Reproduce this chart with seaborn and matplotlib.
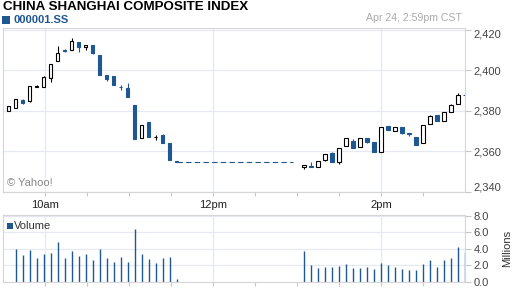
import matplotlib
matplotlib.use("Agg")
import matplotlib.pyplot as plt
from matplotlib.patches import Rectangle
import seaborn as sns
import pandas as pd
import numpy as np

sns.set_theme(style="white")
plt.rcParams['font.family'] = ['Liberation Sans', 'DejaVu Sans']

# ---------------- data ----------------
am_times = pd.date_range("2013-04-24 09:34", periods=25, freq="5min")
pm_times = pd.date_range("2013-04-24 13:05", periods=24, freq="5min")

am_open  = [2379.8, 2381.6, 2385.4, 2384.6, 2391.8, 2391.5, 2396.4, 2404.3, 2409.9, 2410.2,
            2413.8, 2411.2, 2412.6, 2407.4, 2397.5, 2397.0, 2391.9, 2391.1, 2382.8, 2366.4,
            2374.4, 2366.9, 2368.0, 2364.2, 2355.1]
am_high  = [2382.6, 2385.6, 2385.7, 2392.1, 2392.8, 2397.1, 2403.3, 2411.8, 2410.6, 2415.8,
            2413.8, 2412.6, 2412.6, 2407.4, 2397.5, 2397.0, 2392.6, 2393.7, 2382.8, 2373.2,
            2374.4, 2368.3, 2368.5, 2364.2, 2355.1]
am_low   = [2379.8, 2381.6, 2383.6, 2384.3, 2391.6, 2391.5, 2394.2, 2404.3, 2408.9, 2410.2,
            2409.0, 2410.2, 2407.9, 2397.7, 2394.7, 2392.8, 2390.5, 2386.9, 2366.2, 2366.4,
            2367.0, 2365.5, 2363.9, 2355.8, 2355.0]
am_close = [2382.6, 2385.6, 2383.9, 2392.1, 2392.1, 2396.6, 2403.3, 2408.7, 2409.6, 2414.6,
            2411.2, 2412.6, 2408.5, 2397.7, 2395.7, 2392.8, 2391.7, 2386.9, 2366.2, 2373.2,
            2367.0, 2367.1, 2363.9, 2355.8, 2355.0]
am_volume = [0.0, 3.96, 3.23, 3.84, 2.87, 3.35, 3.51, 4.82, 2.87, 3.72, 3.11, 3.35, 2.62,
             3.96, 2.87, 2.38, 2.99, 2.38, 6.40, 3.35, 2.74, 2.26, 2.87, 2.99, 0.30]

pm_open  = [2352.4, 2352.8, 2352.5, 2356.0, 2359.1, 2354.9, 2362.6, 2365.0, 2362.2, 2366.8,
            2364.5, 2359.9, 2372.3, 2370.1, 2371.8, 2369.0, 2367.3, 2364.2, 2373.7, 2377.7,
            2375.0, 2379.5, 2383.3, 2387.8]
pm_high  = [2353.5, 2354.7, 2355.3, 2358.7, 2359.7, 2361.9, 2366.4, 2366.0, 2366.8, 2366.8,
            2364.5, 2371.8, 2372.6, 2371.8, 2371.8, 2369.2, 2367.3, 2373.2, 2377.7, 2377.7,
            2379.3, 2383.6, 2388.7, 2388.7]
pm_low   = [2351.1, 2352.4, 2352.5, 2355.2, 2354.8, 2353.8, 2362.6, 2361.9, 2362.2, 2364.2,
            2359.5, 2359.9, 2370.4, 2370.1, 2368.8, 2367.5, 2363.4, 2363.9, 2373.7, 2375.0,
            2375.0, 2379.5, 2383.3, 2387.6]
pm_close = [2353.5, 2352.4, 2355.3, 2358.7, 2354.8, 2361.9, 2366.4, 2361.9, 2366.4, 2364.7,
            2359.5, 2371.8, 2370.4, 2371.8, 2369.1, 2368.7, 2363.4, 2373.2, 2377.3, 2375.0,
            2379.3, 2382.8, 2387.7, 2387.6]
pm_volume = [3.72, 2.01, 1.65, 1.77, 1.77, 1.89, 2.13, 1.65, 1.65, 1.77, 1.52, 2.26, 2.01,
             1.77, 1.52, 1.40, 1.40, 2.13, 2.62, 1.77, 2.62, 2.87, 4.21, 3.60]

lunch_times = ["11:34", "12:57"]

price_ticks = [2340, 2360, 2380, 2400, 2420]
price_labels = ["2,340", "2,360", "2,380", "2,400", "2,420"]
vol_ticks = [0, 2, 4, 6, 8]
vol_labels = ["0.0", "2.0", "4.0", "6.0", "8.0"]
time_ticks = ["10:00", "12:00", "14:00"]
time_labels = ["10am", "12pm", "2pm"]
minor_times = ["10:30", "11:00", "11:30", "12:30", "13:00", "13:30", "14:30"]

# ---------------- helpers ----------------
def to_min(t):
    if isinstance(t, str):
        h, m = t.split(":")
        return int(h) * 60 + int(m)
    return t.hour * 60 + t.minute

BLUE = "#1e5792"
GRID = "#e6e9f1"
SPINE = "#d6d6d6"

times = [to_min(t) for t in am_times] + [to_min(t) for t in pm_times]
opens = am_open + pm_open
highs = am_high + pm_high
lows = am_low + pm_low
closes = am_close + pm_close
vols = am_volume + pm_volume

df = pd.DataFrame(dict(t=times, o=opens, h=highs, l=lows, c=closes, v=vols))
df["up"] = df["c"] >= df["o"]

W, H = 512, 288
fig = plt.figure(figsize=(W / 100, H / 100), dpi=100)
fig.patch.set_facecolor("white")
ax = fig.add_axes([3 / W, 1 - 192 / H, 462 / W, (192 - 28) / H])
axv = fig.add_axes([3 / W, 1 - 281.5 / H, 462 / W, (281.5 - 215) / H])

for a in (ax, axv):
    a.set_xlim(570, 900)
    a.set_facecolor("white")
    for s in a.spines.values():
        s.set_color(SPINE)
        s.set_linewidth(0.8)
    a.set_xticks([to_min(t) for t in time_ticks])
    a.set_xticks([to_min(t) for t in minor_times], minor=True)
    a.grid(axis="x", which="major", color=GRID, linewidth=0.9)
    a.grid(axis="y", which="major", color=GRID, linewidth=0.9)
    a.set_axisbelow(True)
    a.tick_params(axis="x", which="both", bottom=True, top=False, direction="out",
                  length=3, width=0.8, color="#c8c8c8")

# ---- candles ----
ax.set_ylim(2340, 2420.8)
col_wick = np.where(df["up"], "black", BLUE)
ax.vlines(df["t"], df["l"], df["h"], colors=col_wick, linewidth=0.8, zorder=2)
ax.bar(df["t"], df["c"] - df["o"], bottom=df["o"], width=2.7,
       color=np.where(df["up"], "white", BLUE),
       edgecolor=np.where(df["up"], "black", BLUE), linewidth=0.8, zorder=3)

lunch = pd.DataFrame(dict(t=[to_min(t) for t in lunch_times],
                          p=[am_close[-1], am_close[-1]]))
sns.lineplot(data=lunch, x="t", y="p", ax=ax, color=BLUE, linewidth=0.8,
             linestyle=(0, (4.8, 3.0)), zorder=2)
ax.set_xlabel("")
ax.set_ylabel("")

ax.set_xticklabels(time_labels)
ax.tick_params(axis="x", which="major", labelsize=8, labelcolor="#222222", pad=2.5)
ax.set_yticks(price_ticks)
ax.set_yticklabels(price_labels)
ax.yaxis.tick_right()
ax.tick_params(axis="y", right=True, left=False, labelright=True, labelleft=False,
               length=4, width=0.8, color="#c8c8c8", labelsize=8, labelcolor="#444444", pad=2)

# ---- volume ----
axv.set_ylim(0, 8.1)
axv.vlines(df["t"], 0, df["v"], colors=BLUE, linewidth=1.0, zorder=2)
axv.set_yticks(vol_ticks)
axv.set_yticklabels(vol_labels)
axv.yaxis.tick_right()
axv.tick_params(axis="y", right=True, left=False, labelright=True, labelleft=False,
                length=4, width=0.8, color="#c8c8c8", labelsize=8, labelcolor="#444444", pad=2)
axv.tick_params(axis="x", labelbottom=False)

# ---- texts ----
fig.text(3 / W, 1 - 7 / H, "CHINA SHANGHAI COMPOSITE INDEX", fontsize=9.6,
         fontweight="bold", color="black", ha="left", va="center")
fig.patches.append(Rectangle((2 / W, 1 - 24 / H), 8 / W, 8 / H, transform=fig.transFigure,
                             facecolor=BLUE, edgecolor="none"))
fig.text(13 / W, 1 - 20 / H, "000001.SS", fontsize=8, fontweight="bold", color=BLUE,
         ha="left", va="center")
fig.text(462 / W, 1 - 18 / H, "Apr 24, 2:59pm CST", fontsize=7.6, color="#aaaaaa",
         ha="right", va="center")
fig.text(7 / W, 1 - 183 / H, "\u00a9 Yahoo!", fontsize=8, color="#888888",
         ha="left", va="center")
fig.patches.append(Rectangle((7 / W, 1 - 229 / H), 5.5 / W, 6 / H, transform=fig.transFigure,
                             facecolor=BLUE, edgecolor="none"))
fig.text(13.5 / W, 1 - 226 / H, "Volume", fontsize=8, color="#333333", ha="left", va="center")
fig.text(507 / W, 1 - 248 / H, "Millions", fontsize=8, color="#333333", rotation=90,
         ha="center", va="center")

# label alignment at the ends of the price scale
mt = ax.yaxis.get_major_ticks()
mt[0].label2.set_va("bottom")
mt[-1].label2.set_va("top")

fig.savefig("out.png", dpi=100, facecolor="white")
